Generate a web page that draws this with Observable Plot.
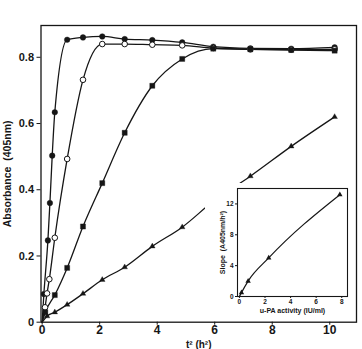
<!DOCTYPE html>
<html>
<head>
<meta charset="utf-8">
<script src="https://cdn.jsdelivr.net/npm/d3@7"></script>
<script src="https://cdn.jsdelivr.net/npm/@observablehq/plot@0.6"></script>
<style>
  html, body { margin: 0; padding: 0; background: #fff; }
  #wrap { position: relative; width: 362px; height: 349px; overflow: hidden; }
  #inset { position: absolute; left: 205px; top: 183px; width: 150px; height: 137px; }
  svg { overflow: visible; }
</style>
</head>
<body>
<div id="wrap"><div id="main"></div><div id="inset"></div></div>
<script>
// Main chart: absorbance (405nm) vs t^2 (h^2)
const s1x = [0.06, 0.2, 0.27, 0.35, 0.44, 0.87, 1.42, 2.09, 2.87, 3.83, 4.87, 5.95, 7.24, 8.66, 10.17];
const s1y = [0.085, 0.247, 0.36, 0.503, 0.634, 0.853, 0.860, 0.863, 0.855, 0.852, 0.845, 0.832, 0.827, 0.826, 0.830];
const s2x = [0.1, 0.17, 0.25, 0.44, 0.87, 1.42, 2.09, 2.87, 3.83, 4.87, 5.95, 7.24, 8.66, 10.17];
const s2y = [0.045, 0.087, 0.13, 0.255, 0.493, 0.732, 0.840, 0.840, 0.838, 0.836, 0.828, 0.824, 0.823, 0.824];
const s3x = [0.11, 0.44, 0.87, 1.42, 2.09, 2.87, 3.83, 4.87, 5.95, 7.24, 8.66, 10.17];
const s3y = [0.03, 0.082, 0.164, 0.289, 0.42, 0.572, 0.714, 0.795, 0.826, 0.824, 0.822, 0.82];
const s4x = [0.17, 0.44, 0.87, 1.42, 2.09, 2.87, 3.83, 4.87, 5.95, 7.24, 8.66, 10.17];
const s4y = [0.018, 0.03, 0.053, 0.086, 0.128, 0.166, 0.229, 0.287, 0.365, 0.441, 0.531, 0.62];
const origin = {x: 0, y: 0};
const xTicks = [0, 2, 4, 6, 8, 10];
const yTicks = [0, 0.2, 0.4, 0.6, 0.8];

// Inset: slope vs u-PA activity
const ux = [0.16, 0.68, 2.29, 7.85];
const uy = [0.5, 2.0, 5.0, 13.2];
const uxTicks = [0, 2, 4, 6, 8];
const uyTicks = [0, 4, 8, 12];

const toRows = (xs, ys) => xs.map((x, i) => ({x, y: ys[i]}));
const r1 = toRows(s1x, s1y), r2 = toRows(s2x, s2y), r3 = toRows(s3x, s3y), r4 = toRows(s4x, s4y);
const ink = "#161616";
const lineOpts = {x: "x", y: "y", stroke: ink, strokeWidth: 1.3, curve: "monotone-x"};

const main = Plot.plot({
  width: 362, height: 349,
  marginLeft: 40.5, marginRight: 6, marginTop: 25, marginBottom: 27.3,
  x: {domain: [-0.04, 10.93], ticks: xTicks, tickFormat: d => String(d), label: null},
  y: {domain: [0, 0.896], ticks: yTicks, tickFormat: d => d === 0 ? "0" : d.toFixed(1), label: null},
  style: {fontFamily: "'Liberation Sans', Arial, sans-serif", fontSize: "11px", fontWeight: "bold", color: ink, background: "#fff"},
  marks: [
    Plot.line([origin, ...r1], lineOpts),
    Plot.line([origin, ...r2], lineOpts),
    Plot.line([origin, ...r3], lineOpts),
    Plot.line([origin, ...r4], lineOpts),
    Plot.dot(r1, {x: "x", y: "y", r: 2.8, fill: ink, stroke: ink, strokeWidth: 0.4}),
    Plot.dot(r2, {x: "x", y: "y", r: 2.8, fill: "#fff", stroke: ink, strokeWidth: 1}),
    Plot.dot(r3, {x: "x", y: "y", r: 2.9, symbol: "square", fill: ink, stroke: ink, strokeWidth: 0.3}),
    Plot.dot(r4, {x: "x", y: "y", r: 2.1, symbol: "triangle", fill: ink, stroke: ink, strokeWidth: 0.3}),
    Plot.frame({stroke: ink, strokeWidth: 1.3}),
    Plot.axisX({ticks: xTicks, tickSize: 3, tickPadding: 0, tickFormat: d => String(d), label: null, fontSize: 12}),
    Plot.axisY({ticks: yTicks, tickSize: 4, tickPadding: 3, tickFormat: d => d === 0 ? "0" : d.toFixed(1), label: null}),
    Plot.text(["t² (h²)"], {frameAnchor: "bottom", dy: 26, lineAnchor: "bottom", fontSize: 10, fontWeight: "bold", fill: ink}),
    Plot.text(["Absorbance  (405nm)"], {frameAnchor: "left", textAnchor: "middle", dx: -33, rotate: -90, fontSize: 10.5, fontWeight: "bold", fill: ink, style: "letter-spacing:0.8px"})
  ]
});
document.getElementById("main").appendChild(main);

const irows = [{x: 0, y: 0}, ...toRows(ux, uy)];
const inset = Plot.plot({
  width: 150, height: 137,
  marginLeft: 32, marginRight: 8, marginTop: 5, marginBottom: 24,
  x: {domain: [-0.15, 8.45], ticks: uxTicks, label: null},
  y: {domain: [0, 14], ticks: uyTicks, label: null},
  style: {fontFamily: "'Liberation Sans', Arial, sans-serif", fontSize: "6.5px", fontWeight: "bold", color: ink, background: "#fff", overflow: "visible"},
  marks: [
    Plot.line(irows, {x: "x", y: "y", stroke: ink, strokeWidth: 1.2, curve: "monotone-x"}),
    Plot.dot(toRows(ux, uy), {x: "x", y: "y", r: 2, symbol: "triangle", fill: ink}),
    Plot.frame({stroke: ink, strokeWidth: 1.1}),
    Plot.axisX({ticks: uxTicks, tickSize: 2, tickPadding: 1, label: null}),
    Plot.axisY({ticks: uyTicks, tickSize: 2, tickPadding: 2, label: null}),
    Plot.text(["u-PA activity (IU/ml)"], {frameAnchor: "bottom", dy: 12, lineAnchor: "top", fontSize: 7, fontWeight: "bold", fill: ink, style: "letter-spacing:0.5px"}),
    Plot.text(["Slope  (A405nm/h²)"], {frameAnchor: "left", textAnchor: "middle", dx: -15, rotate: -90, fontSize: 7, fontWeight: "bold", fill: ink, style: "letter-spacing:0.8px"})
  ]
});
document.getElementById("inset").appendChild(inset);
</script>
</body>
</html>
